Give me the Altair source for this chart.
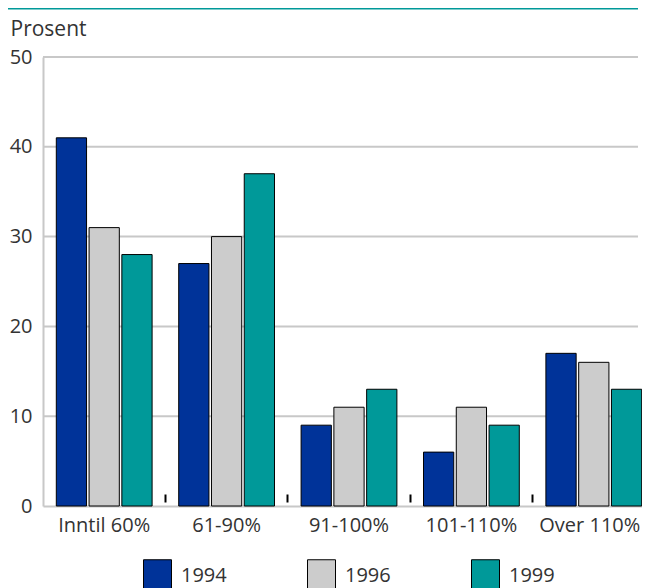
import altair as alt
import pandas as pd

categories = ["Inntil 60%", "61-90%", "91-100%", "101-110%", "Over 110%"]
years = ["1994", "1996", "1999"]
v1994 = [41, 27, 9, 6, 17]
v1996 = [31, 30, 11, 11, 16]
v1999 = [28, 37, 13, 9, 13]
y_ticks = [0, 10, 20, 30, 40, 50]
colors = ["#003399", "#cccccc", "#009999"]

rows = []
for yr, vals in zip(years, [v1994, v1996, v1999]):
    for c, v in zip(categories, vals):
        rows.append({"cat": c, "year": yr, "value": v})
df = pd.DataFrame(rows)
grid_df = pd.DataFrame({"value": y_ticks[1:]})
tick_df = pd.DataFrame({"cat": categories})
line_df = pd.DataFrame({"a": [0]})

W, H = 599, 449
FONT = "Open Sans"
TXT = "#333333"
GREY = "#c8c8c8"

x_scale = alt.Scale(domain=categories, range=[0, 612], paddingInner=0, paddingOuter=0)
y_scale = alt.Scale(domain=[0, 50])

y_axis = alt.Axis(values=y_ticks, title="Prosent", titleAngle=0, titleX=-33, titleY=-22,
                  titleAlign="left", titleBaseline="alphabetic", titleFontSize=21,
                  titleFontWeight="normal", titleFont=FONT, titleColor=TXT,
                  grid=False, ticks=False, domainColor=GREY, domainWidth=2,
                  labelFontSize=20, labelFont=FONT, labelColor=TXT, labelPadding=11)

grid = alt.Chart(grid_df).mark_rule(color=GREY, strokeWidth=2).encode(
    y=alt.Y("value:Q", scale=y_scale, axis=y_axis),
    x=alt.value(0),
    x2=alt.value(595),
)

last_cat = categories[-1]
bars = alt.Chart(df).mark_bar(stroke="black", strokeWidth=1).encode(
    x=alt.X("cat:N", scale=x_scale, sort=categories,
            axis=alt.Axis(title=None, labelAngle=0, ticks=False, domainColor=GREY, domainWidth=2,
                          labelFontSize=20, labelFont=FONT, labelColor=TXT, labelPadding=9,
                          labelOffset={"condition": {"test": f"datum.value === '{last_cat}'", "value": -4},
                                       "value": 0},
                          orient="bottom")),
    xOffset=alt.XOffset("year:N", sort=years, scale=alt.Scale(paddingInner=0.077, paddingOuter=0.406)),
    y=alt.Y("value:Q", scale=y_scale, axis=y_axis),
    color=alt.Color("year:N", scale=alt.Scale(domain=years, range=colors),
                    legend=alt.Legend(title=None, orient="none", legendX=94, legendY=498,
                                      direction="horizontal", symbolType="M-0.7,-0.8H0.7V1.2H-0.7Z",
                                      symbolSize=1600, symbolStrokeColor="black", symbolStrokeWidth=1,
                                      symbolOpacity=1, labelFontSize=20, labelFont=FONT, labelColor=TXT,
                                      labelOffset=3, columnPadding=74, padding=0)),
)

ticks = alt.Chart(tick_df).mark_point(opacity=0).encode(
    x=alt.X("cat:N", scale=x_scale, sort=categories,
            axis=alt.Axis(orient="bottom", values=categories[1:], bandPosition=0, offset=-12,
                          labels=False, domain=False, ticks=True, tickSize=8, tickWidth=2,
                          tickColor="black", title=None, grid=False)),
)

topline = alt.Chart(line_df).mark_rule(color="#009999", strokeWidth=3).encode(
    x=alt.value(-35), x2=alt.value(595), y=alt.value(-49)
)

chart = alt.layer(grid, bars, ticks, topline).resolve_axis(x="independent").properties(
    width=W, height=H,
    autosize=alt.AutoSizeParams(type="none"),
    padding={"left": 35, "top": 49, "right": 0, "bottom": 82},
).configure_view(stroke=None)

chart.save("out.html", embed_options={"renderer": "svg", "actions": False})
